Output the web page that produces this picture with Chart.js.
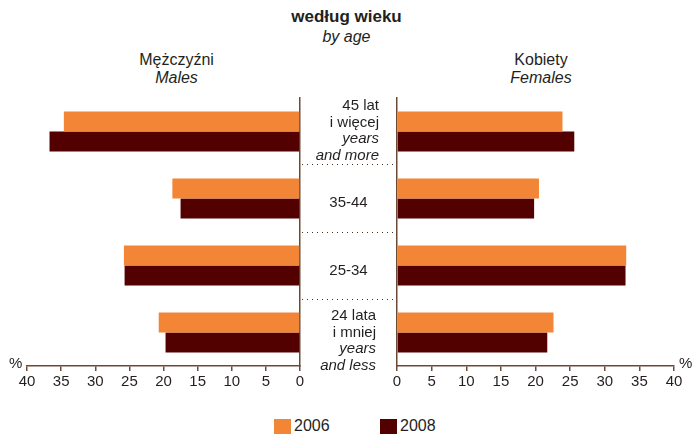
<!DOCTYPE html>
<html>
<head>
<meta charset="utf-8">
<script src="https://cdn.jsdelivr.net/npm/chart.js@4"></script>
<style>
  body { margin: 0; background: #fff; font-family: "Liberation Sans", Arial, sans-serif; color: #231f20; }
  #page { position: relative; width: 693px; height: 434px; overflow: hidden; }
  .box { position: absolute; }
  .txt { position: absolute; font-size: 15px; line-height: 17px; white-space: nowrap; }
  .it { font-style: italic; }
  .hd { font-size: 16px; }
  .dots { position: absolute; height: 1px; left: 302px; width: 94px;
          background: repeating-linear-gradient(to right, #4a2a1a 0 1px, transparent 1px 5px); }
  .sw { position: absolute; width: 17px; height: 15px; }
</style>
</head>
<body>
<div id="page">
  <div class="txt" style="left:0;width:693px;top:8px;text-align:center;font-weight:bold;font-size:17px;">według wieku</div>
  <div class="txt it hd" style="left:0;width:693px;top:28px;text-align:center;">by age</div>

  <div class="txt hd" style="left:100px;width:153px;top:51px;text-align:center;">Mężczyźni</div>
  <div class="txt it hd" style="left:100px;width:153px;top:69px;text-align:center;">Males</div>
  <div class="txt hd" style="left:465px;width:152px;top:51px;text-align:center;">Kobiety</div>
  <div class="txt it hd" style="left:465px;width:152px;top:69px;text-align:center;">Females</div>

  <div class="box" style="left:0;top:0;width:320px;height:400px;"><canvas id="leftChart"></canvas></div>
  <div class="box" style="left:373px;top:0;width:320px;height:400px;"><canvas id="rightChart"></canvas></div>

  <div class="dots" style="top:164px;"></div>
  <div class="dots" style="top:232px;"></div>
  <div class="dots" style="top:299px;"></div>

  <div id="centerLabels"></div>

  <div class="txt" style="left:9px;top:354px;">%</div>
  <div class="txt" style="left:679px;top:354px;">%</div>

  <div class="sw" style="left:274px;top:419px;background:#f38536;"></div>
  <div class="txt" style="left:294px;top:417px;font-size:16px;">2006</div>
  <div class="sw" style="left:380px;top:419px;background:#530000;"></div>
  <div class="txt" style="left:400px;top:417px;font-size:16px;">2008</div>
</div>

<script>
/*
  Dane: udział wg wieku (%), mężczyźni i kobiety, lata 2006 i 2008
*/
var age_groups = ["45+", "35-44", "25-34", "24-"];
var years = ["2006", "2008"];
var males_2006 = [34.6, 18.7, 25.8, 20.7];
var males_2008 = [36.7, 17.5, 25.7, 19.7];
var females_2006 = [23.9, 20.5, 33.1, 22.6];
var females_2008 = [25.6, 19.8, 33.0, 21.7];
var x_ticks = [0, 5, 10, 15, 20, 25, 30, 35, 40];

// etykiety w środku: linie tekstu, kursywa dla angielskich
var center_labels = [
  [["45 lat", false], ["i więcej", false], ["years", true], ["and more", true]],
  [["35-44", false]],
  [["25-34", false]],
  [["24 lata", false], ["i mniej", false], ["years", true], ["and less", true]]
];

var color_2006 = "#f38536";
var color_2008 = "#530000";
var axis_color = "#6b4a35";

function make_chart(canvas_id, data_2006, data_2008, reversed, padding) {
  var canvas = document.getElementById(canvas_id);
  return new Chart(canvas.getContext("2d"), {
    type: "bar",
    data: {
      labels: age_groups,
      datasets: [
        { label: years[0], data: data_2006, backgroundColor: color_2006 },
        { label: years[1], data: data_2008, backgroundColor: color_2008 }
      ]
    },
    options: {
      indexAxis: "y",
      responsive: true,
      maintainAspectRatio: false,
      animation: false,
      layout: { padding: padding },
      datasets: { bar: { categoryPercentage: 0.6, barPercentage: 1.0 } },
      scales: {
        x: {
          min: 0,
          max: 40,
          reverse: reversed,
          afterFit: function (scale) { scale.height = 34; },
          afterBuildTicks: function (scale) {
            scale.ticks = x_ticks.map(function (v) { return { value: v }; });
          },
          border: { display: true, color: axis_color, width: 1.5 },
          grid: { display: true, drawOnChartArea: false, drawTicks: true, tickLength: 5, color: axis_color, lineWidth: 1.5 },
          ticks: { color: "#231f20", padding: 2, font: { family: "Liberation Sans", size: 15 }, maxRotation: 0 }
        },
        y: {
          position: reversed ? "right" : "left",
          afterFit: function (scale) { scale.width = 0; },
          border: { display: true, color: axis_color, width: 1.5 },
          grid: { display: false },
          ticks: { display: false }
        }
      },
      plugins: {
        legend: { display: false },
        tooltip: { enabled: false }
      }
    }
  });
}

make_chart("leftChart", males_2006, males_2008, true, { left: 27, right: 20, top: 98, bottom: 0 });
make_chart("rightChart", females_2006, females_2008, false, { left: 24, right: 19, top: 98, bottom: 0 });

// środkowe etykiety grup wieku
var holder = document.getElementById("centerLabels");
var tops = [96, 193, 261, 306];
center_labels.forEach(function (lines, i) {
  lines.forEach(function (line, j) {
    var div = document.createElement("div");
    div.className = "txt" + (line[1] ? " it" : "");
    div.textContent = line[0];
    if (lines.length === 1) {
      div.style.left = "300px";
      div.style.width = "97px";
      div.style.textAlign = "center";
    } else {
      div.style.left = "300px";
      div.style.width = (i === 0 ? 79 : 76) + "px";
      div.style.textAlign = "right";
    }
    div.style.top = (tops[i] + j * 16.5) + "px";
    holder.appendChild(div);
  });
});
</script>
</body>
</html>
